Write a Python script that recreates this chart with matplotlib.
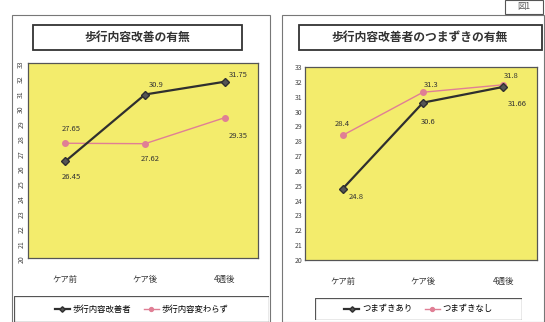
import matplotlib
matplotlib.use("Agg")
import matplotlib.pyplot as plt
from matplotlib.patches import Rectangle

plt.rcParams['font.family'] = ['Noto Sans CJK JP', 'DejaVu Sans']

# ---------- datos ----------
categorias = ["ケア前", "ケア後", "4週後"]

titulo_izq = "歩行内容改善の有無"
mejora = [26.45, 30.9, 31.75]
sin_cambio = [27.65, 27.62, 29.35]
leyenda_izq = ["歩行内容改善者", "歩行内容変わらず"]

titulo_der = "歩行内容改善者のつまずきの有無"
tropieza = [24.8, 30.6, 31.66]
no_tropieza = [28.4, 31.3, 31.8]
leyenda_der = ["つまずきあり", "つまずきなし"]

y_ticks = list(range(20, 34))

W, H = 545, 322
AMARILLO = "#f3ec6c"
ROSA = "#e07f95"
NEGRO = "#2f2f2f"

def rect(x0, y0, x1, y1):
    return [x0 / W, 1 - y1 / H, (x1 - x0) / W, (y1 - y0) / H]

fig = plt.figure(figsize=(W / 100, H / 100), dpi=100)

# marcos exteriores
for x0, x1 in [(12, 270), (282, 544)]:
    fig.patches.append(Rectangle((x0 / W, 0), (x1 - x0) / W, 1 - 15 / H,
                                 transform=fig.transFigure, fill=False,
                                 lw=0.8, ec="#777"))
fig.patches.append(Rectangle((505 / W, 1 - 14 / H), 38 / W, 14 / H,
                             transform=fig.transFigure, fill=False, lw=0.8, ec="#555"))
fig.text(524 / W, 1 - 7 / H, "図1", fontsize=6, ha="center", va="center", color="#555")

def panel(px, caja_tit, s1, s2, etiquetas, etq_pos, leyenda, caja_ley, rot):
    x0, y0, x1, y1 = px
    ax = fig.add_axes(rect(x0, y0, x1, y1))
    ax.set_facecolor(AMARILLO)
    xs = range(len(categorias))
    ax.plot(xs, s1, color=NEGRO, lw=1.6, marker="D", ms=4, mfc="#555", mec=NEGRO,
            label=leyenda[0], zorder=3)
    ax.plot(xs, s2, color=ROSA, lw=1.0, marker="o", ms=4, mfc=ROSA, mec=ROSA,
            label=leyenda[1], zorder=2)
    for (txt, xi, yi), (dx, dy) in zip(etiquetas, etq_pos):
        ax.annotate(txt, (xi, yi), xytext=(dx, dy), textcoords="offset points",
                    fontsize=5.5, ha="center", va="center", color="#333")
    ax.set_xlim(-0.47, 2.42)
    ax.set_ylim(20, 33)
    ax.set_yticks(y_ticks)
    ax.set_yticklabels([str(v) for v in y_ticks], fontsize=5, rotation=rot, color="#444")
    ax.set_xticks(list(xs))
    ax.set_xticklabels(categorias, fontsize=6, color="#333")
    ax.tick_params(length=0, pad=2)
    ax.tick_params(axis="x", pad=12)
    for s in ax.spines.values():
        s.set_color("#555")
        s.set_linewidth(0.9)
    # caja del titulo
    tx0, ty0, tx1, ty1 = caja_tit
    fig.patches.append(Rectangle((tx0 / W, 1 - ty1 / H), (tx1 - tx0) / W, (ty1 - ty0) / H,
                                 transform=fig.transFigure, fill=False, lw=1.3, ec="#333"))
    # leyenda
    lx0, ly0, lx1, ly1 = caja_ley
    ley = fig.add_axes(rect(lx0, ly0, lx1, ly1))
    ley.axis("off")
    ley.add_patch(Rectangle((0, 0), 1, 1, transform=ley.transAxes, fill=False, lw=0.9, ec="#555"))
    ley.legend(*ax.get_legend_handles_labels(), loc="center", ncol=2, frameon=False,
               fontsize=6, handlelength=1.8, columnspacing=1.5, borderaxespad=0,
               handletextpad=0.3, markerscale=0.7)
    return ax

et_izq = [("26.45", 0, mejora[0]), ("30.9", 1, mejora[1]), ("31.75", 2, mejora[2]),
          ("27.65", 0, sin_cambio[0]), ("27.62", 1, sin_cambio[1]), ("29.35", 2, sin_cambio[2])]
pos_izq = [(4, -11), (8, 7), (10, 5), (4, 10), (4, -11), (10, -13)]

et_der = [("24.8", 0, tropieza[0]), ("30.6", 1, tropieza[1]), ("31.66", 2, tropieza[2]),
          ("28.4", 0, no_tropieza[0]), ("31.3", 1, no_tropieza[1]), ("31.8", 2, no_tropieza[2])]
pos_der = [(10, -6), (4, -14), (10, -12), (0, 8), (6, 5), (6, 6)]

panel((28, 63, 258, 258), (33, 25, 242, 50), mejora, sin_cambio, et_izq, pos_izq,
      leyenda_izq, (14, 296, 269, 322), 90)
fig.text(137 / W, 1 - 37 / H, titulo_izq, ha="center", va="center", fontsize=8.5,
         fontweight="bold", color="#333")

panel((305, 67, 537, 260), (299, 25, 542, 50), tropieza, no_tropieza, et_der, pos_der,
      leyenda_der, (315, 298, 522, 320), 0)
fig.text(420 / W, 1 - 37 / H, titulo_der, ha="center", va="center", fontsize=8.5,
         fontweight="bold", color="#333")

fig.savefig("out.png", dpi=100, facecolor="white")
